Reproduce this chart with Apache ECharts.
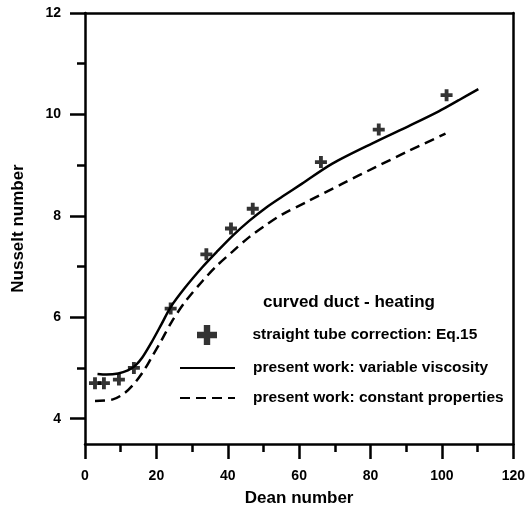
<!DOCTYPE html>
<html>
<head>
<meta charset="utf-8">
<script src="https://cdn.jsdelivr.net/npm/echarts@6/dist/echarts.min.js"></script>
<style>
  html, body { margin: 0; padding: 0; background: #fff; }
  #chart { width: 528px; height: 513px; }
</style>
</head>
<body>
<div id="chart"></div>
<script>
// Straight tube correction (Eq.15) points
const straightDe = [2.8, 5.3, 9.5, 13.7, 24.0, 34.0, 40.9, 47.0, 66.1, 82.3, 101.3];
const straightNu = [4.70, 4.70, 4.77, 5.00, 6.17, 7.24, 7.75, 8.14, 9.06, 9.70, 10.38];

// Present work: variable viscosity
const varDe = [3.5, 6, 9.3, 12, 14, 16, 18.6, 21.4, 24, 28, 32.8, 36.8, 41.4, 46, 50.7, 55.3, 60.7, 69.3, 81.4, 90.7, 99.1, 104.7, 110.2];
const varNu = [4.88, 4.87, 4.89, 4.95, 5.04, 5.20, 5.50, 5.86, 6.20, 6.58, 6.98, 7.28, 7.61, 7.90, 8.16, 8.38, 8.63, 9.03, 9.46, 9.77, 10.06, 10.28, 10.50];

// Present work: constant properties
const constDe = [2.8, 7.8, 11, 14, 16.5, 18.6, 21.4, 24.2, 28, 33, 37, 41.4, 46, 50.7, 55.3, 62, 72, 81.4, 90.7, 101];
const constNu = [4.35, 4.38, 4.50, 4.71, 4.95, 5.20, 5.54, 5.90, 6.30, 6.72, 7.02, 7.30, 7.58, 7.82, 8.03, 8.27, 8.63, 8.96, 9.28, 9.62];

// Axis ticks
const xMin = 0, xMax = 120, xStep = 20;
const yMin = 3.5, yMax = 12;
const yMajor = [4, 6, 8, 10, 12];
const yMinor = [5, 7, 9, 11];

const seriesNames = [
  'straight tube correction: Eq.15',
  'present work: variable viscosity',
  'present work: constant properties'
];
const panelTitle = 'curved duct - heating';
const xName = 'Dean number';
const yName = 'Nusselt number';

const zip = (xs, ys) => xs.map((x, i) => [x, ys[i]]);
const FONT = 'Liberation Sans, Arial, sans-serif';
const INK = '#000';
const W = 2.5;
const cross = 'path://M3.4,0h3.2v3.4h3.4v3.2h-3.4v3.4h-3.2v-3.4h-3.4v-3.2h3.4z';

const chart = echarts.init(document.getElementById('chart'), null, { renderer: 'canvas' });

const lineAxis = { show: true, lineStyle: { color: INK, width: W } };
const labelStyle = { color: INK, fontFamily: FONT, fontWeight: 'bold', fontSize: 14 };
const legendText = {
  color: INK, fontFamily: FONT, fontWeight: 'bold', fontSize: 15.5,
  rich: { gap: { width: 13 } }
};
const legendCommon = {
  orient: 'vertical', padding: 5,
  itemWidth: 55, itemHeight: 20,
  symbolKeepAspect: true,
  formatter: n => '{gap|}' + n,
  textStyle: legendText
};

chart.setOption({
  animation: false,
  backgroundColor: '#fff',
  grid: { left: 85, top: 13, right: 13, bottom: 69, containLabel: false },
  title: {
    text: panelTitle,
    left: 258, top: 289,
    textStyle: { color: INK, fontFamily: FONT, fontWeight: 'bold', fontSize: 17 }
  },
  legend: [
    // marker entry: the box starts at the marker itself, which sits centred in the icon slot
    Object.assign({}, legendCommon, { left: 192, top: 320, data: [seriesNames[0]] }),
    // line samples only: hide the marker the line legend icon adds
    Object.assign({}, legendCommon, {
      left: 174, top: 355, itemGap: 14, data: [seriesNames[1], seriesNames[2]],
      itemStyle: { opacity: 0, borderWidth: 0 }
    })
  ],
  xAxis: [
    {
      type: 'value', position: 'bottom', min: xMin, max: xMax, interval: xStep,
      name: xName, nameLocation: 'middle', nameGap: 46,
      nameTextStyle: { color: INK, fontFamily: FONT, fontWeight: 'bold', fontSize: 17 },
      axisLine: lineAxis,
      axisTick: { show: true, inside: false, length: 15, lineStyle: { color: INK, width: W } },
      minorTick: { show: true, splitNumber: 2, length: 8, lineStyle: { color: INK, width: W } },
      axisLabel: Object.assign({ margin: 25 }, labelStyle),
      splitLine: { show: false }, minorSplitLine: { show: false }
    },
    {
      type: 'value', position: 'top', min: xMin, max: xMax,
      axisLine: lineAxis, axisTick: { show: false }, axisLabel: { show: false },
      splitLine: { show: false }
    }
  ],
  yAxis: [
    {
      type: 'value', position: 'left', min: yMin, max: yMax,
      name: yName, nameLocation: 'middle', nameGap: 58,
      nameTextStyle: { color: INK, fontFamily: FONT, fontWeight: 'bold', fontSize: 17 },
      axisLine: lineAxis,
      axisTick: { show: true, inside: false, length: 15, customValues: yMajor, lineStyle: { color: INK, width: W } },
      axisLabel: Object.assign({ margin: 24, customValues: yMajor }, labelStyle),
      splitLine: { show: false }
    },
    {
      type: 'value', position: 'left', min: yMin, max: yMax,
      axisLine: { show: false },
      axisTick: { show: true, inside: false, length: 8, customValues: yMinor, lineStyle: { color: INK, width: W } },
      axisLabel: { show: false },
      splitLine: { show: false }
    },
    {
      type: 'value', position: 'right', min: yMin, max: yMax,
      axisLine: lineAxis, axisTick: { show: false }, axisLabel: { show: false },
      splitLine: { show: false }
    }
  ],
  series: [
    {
      name: seriesNames[0], type: 'scatter',
      data: zip(straightDe, straightNu),
      symbol: cross, symbolSize: 12, symbolKeepAspect: true,
      itemStyle: { color: INK }, z: 5
    },
    {
      name: seriesNames[1], type: 'line',
      data: zip(varDe, varNu),
      smooth: 0.3, symbol: 'none',
      lineStyle: { color: INK, width: W, type: 'solid' },
      itemStyle: { color: INK }
    },
    {
      name: seriesNames[2], type: 'line',
      data: zip(constDe, constNu),
      smooth: 0.3, symbol: 'none',
      lineStyle: { color: INK, width: W, type: [10, 6] },
      itemStyle: { color: INK }
    }
  ]
});
</script>
</body>
</html>
